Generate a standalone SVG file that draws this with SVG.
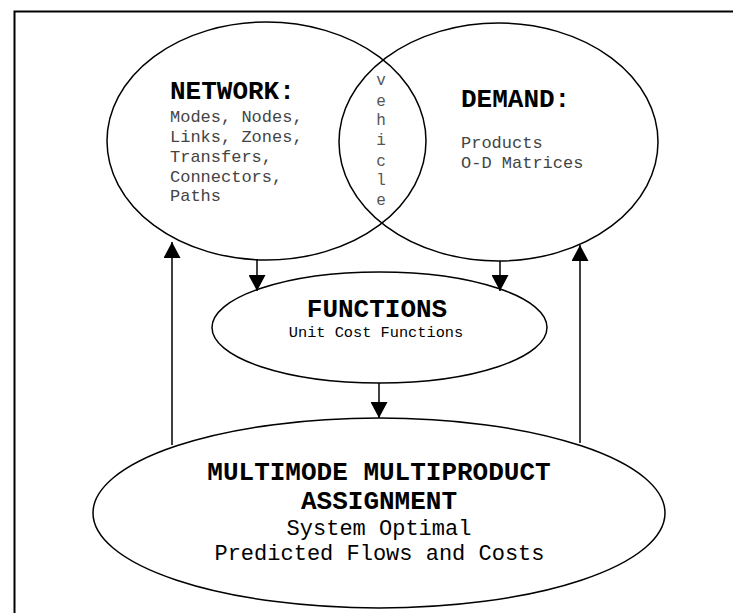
<svg xmlns="http://www.w3.org/2000/svg" width="733" height="613" viewBox="0 0 733 613">
<defs>
<style>
.node{fill:none;stroke:#000;stroke-width:1.5}
.t{font-family:"Courier New","Nimbus Mono PS","FreeMono","Liberation Mono",monospace;fill:#000}
.b{font-weight:bold;font-size:26px}
.r{font-size:17px;fill:#444}
.v{font-size:16px;fill:#555}
.c{stroke:#000;stroke-width:1.5;fill:none}
</style>
<marker id="ah" viewBox="0 0 16 17" refX="16" refY="8.5" markerWidth="16" markerHeight="17" markerUnits="userSpaceOnUse" orient="auto">
<path d="M0,0 L16,8.5 L0,17 Z" fill="#000"/>
</marker>
</defs>
<rect x="0" y="0" width="733" height="613" fill="#fff"/>
<path d="M14.5,613 V11.5 H733" fill="none" stroke="#000" stroke-width="2"/>
<g id="network">
<ellipse class="node" cx="266.5" cy="141" rx="159.5" ry="119"/>
<text class="t b" x="170" y="99">NETWORK:</text>
<text class="t r" x="170" y="122">Modes, Nodes,</text>
<text class="t r" x="170" y="142">Links, Zones,</text>
<text class="t r" x="170" y="162">Transfers,</text>
<text class="t r" x="170" y="182">Connectors,</text>
<text class="t r" x="170" y="201">Paths</text>
</g>
<g id="demand">
<ellipse class="node" cx="498.5" cy="142" rx="159.5" ry="119"/>
<text class="t b" x="461" y="107">DEMAND:</text>
<text class="t r" x="461" y="148">Products</text>
<text class="t r" x="461" y="168">O-D Matrices</text>
</g>
<g id="vehicle" text-anchor="middle">
<text class="t v" x="381" y="85">v</text>
<text class="t v" x="381" y="106">e</text>
<text class="t v" x="381" y="125">h</text>
<text class="t v" x="381" y="145">i</text>
<text class="t v" x="381" y="166">c</text>
<text class="t v" x="381" y="185">l</text>
<text class="t v" x="381" y="205">e</text>
</g>
<g id="functions" text-anchor="middle">
<ellipse class="node" cx="379.5" cy="327.5" rx="167.5" ry="55.5"/>
<text class="t b" x="377" y="317">FUNCTIONS</text>
<text class="t" x="376" y="337" font-size="15.3" fill="#555">Unit Cost Functions</text>
</g>
<g id="assignment" text-anchor="middle">
<ellipse class="node" cx="379" cy="513" rx="286" ry="95"/>
<text class="t b" x="379" y="480">MULTIMODE MULTIPRODUCT</text>
<text class="t b" x="379" y="509">ASSIGNMENT</text>
<text class="t" x="379" y="535" font-size="22" fill="#333">System Optimal</text>
<text class="t" x="379.5" y="560" font-size="22" fill="#333">Predicted Flows and Costs</text>
</g>
<g id="connectors">
<line class="c" x1="257" y1="259" x2="257" y2="291" marker-end="url(#ah)"/>
<line class="c" x1="500" y1="261" x2="500" y2="291" marker-end="url(#ah)"/>
<line class="c" x1="379" y1="383" x2="379" y2="418" marker-end="url(#ah)"/>
<line class="c" x1="172" y1="445" x2="172" y2="242" marker-end="url(#ah)"/>
<line class="c" x1="580" y1="443" x2="580" y2="245" marker-end="url(#ah)"/>
</g>
</svg>
